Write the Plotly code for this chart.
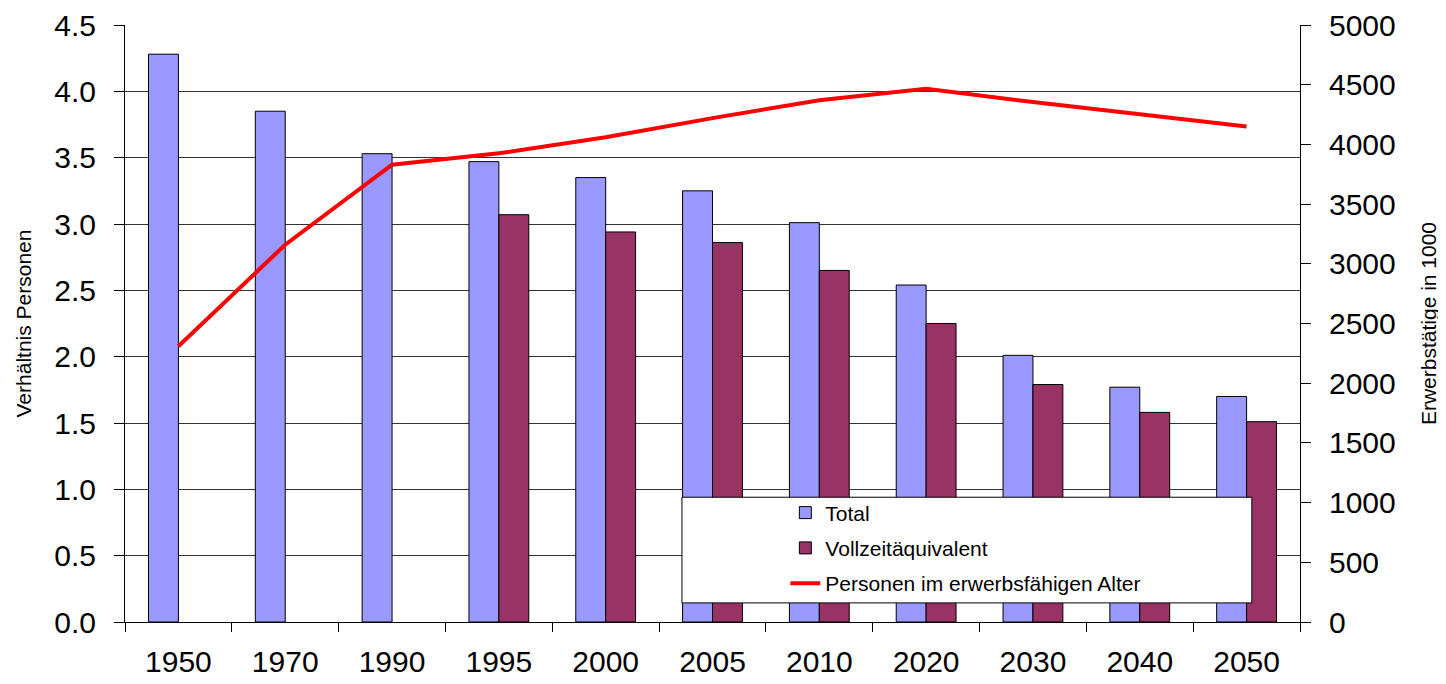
import plotly.graph_objects as go

jahre = ["1950", "1970", "1990", "1995", "2000", "2005", "2010", "2020", "2030", "2040", "2050"]
total = [4.28, 3.85, 3.53, 3.47, 3.35, 3.25, 3.01, 2.54, 2.01, 1.77, 1.70]
vollzeit = [None, None, None, 3.07, 2.94, 2.86, 2.65, 2.25, 1.79, 1.58, 1.51]
erwerbsalter = [2310, 3160, 3830, 3925, 4060, 4220, 4370, 4465, 4355, 4255, 4150]

schrift = "Liberation Sans, Arial, sans-serif"

fig = go.Figure()
fig.add_trace(go.Bar(
    x=jahre, y=total, name="Total",
    marker=dict(color="#9999FF", line=dict(color="black", width=1)),
    legendgroup="a",
))
fig.add_trace(go.Bar(
    x=jahre, y=vollzeit, name="Vollzeitäquivalent",
    marker=dict(color="#993366", line=dict(color="black", width=1)),
    legendgroup="b",
))
fig.add_trace(go.Scatter(
    x=jahre, y=erwerbsalter, name="Personen im erwerbsfähigen Alter",
    mode="lines", line=dict(color="#FF0000", width=4), yaxis="y2",
    legendgroup="c",
))

# Legendenrahmen wie im Original (breiter als Plotlys eigener)
fig.add_shape(
    type="rect", xref="paper", yref="paper",
    x0=0.474, x1=0.959, y0=0.032, y1=0.209,
    fillcolor="white", line=dict(color="black", width=1), layer="above",
)

# die Seite hat 8px Rand, deshalb links/oben etwas weniger
fig.update_layout(
    width=1446, height=684,
    margin=dict(l=117, r=154, t=17, b=70),
    plot_bgcolor="white", paper_bgcolor="white",
    font=dict(family=schrift, color="black"),
    barmode="group", bargap=0.44, bargroupgap=0,
    showlegend=True,
    legend=dict(
        x=0.562, y=0.217, xanchor="left", yanchor="top",
        bgcolor="rgba(0,0,0,0)", borderwidth=0,
        font=dict(size=21, family=schrift),
        traceorder="grouped", tracegroupgap=5,
    ),
    xaxis=dict(
        type="category", tickson="boundaries",
        ticks="outside", ticklen=9, tickcolor="black",
        showline=True, linecolor="black", linewidth=1,
        tickfont=dict(size=30), showgrid=False, automargin=False,
        ticklabelstandoff=13,
    ),
    yaxis=dict(
        range=[0, 4.5], dtick=0.5, tickformat=".1f",
        ticks="outside", ticklen=10, tickcolor="black",
        showline=True, linecolor="black", linewidth=1,
        showgrid=True, gridcolor="#333333", gridwidth=1,
        tickfont=dict(size=30), automargin=False, ticklabelstandoff=12,
        title=dict(text="Verhältnis Personen", font=dict(size=21), standoff=16),
        zeroline=False,
    ),
    yaxis2=dict(
        overlaying="y", side="right",
        range=[0, 5000], dtick=500,
        ticks="outside", ticklen=10, tickcolor="black",
        showline=True, linecolor="black", linewidth=1,
        showgrid=False, zeroline=False,
        tickfont=dict(size=30), automargin=False, ticklabelstandoff=12,
        title=dict(text="Erwerbstätige in 1000", font=dict(size=21), standoff=26),
    ),
)

fig.write_html("out.html")
